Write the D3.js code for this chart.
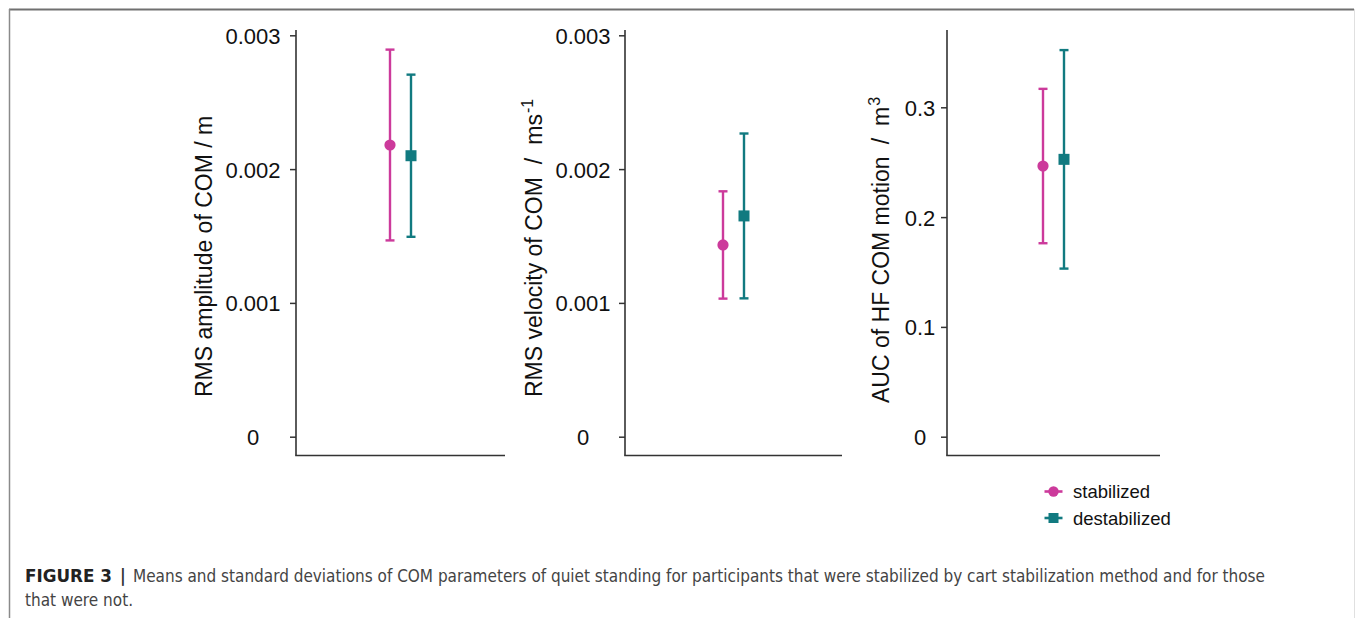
<!DOCTYPE html>
<html>
<head>
<meta charset="utf-8">
<script src="https://cdn.jsdelivr.net/npm/d3@7"></script>
<style>
  html, body { margin: 0; padding: 0; background: #fff; }
  svg { display: block; }
</style>
</head>
<body>
<svg id="chart" width="1355" height="618"></svg>
<script>
// ---------------- data ----------------
const groups = ["stabilized", "destabilized"];
const groupColors = ["#cc3a9b", "#117a80"];

const ampMean = [0.00218, 0.00210];
const ampSD   = [0.000713, 0.000606];

const velMean = [0.001433, 0.00165];
const velSD   = [0.000401, 0.000616];

const aucMean = [0.2465, 0.2526];
const aucSD   = [0.0703, 0.0995];

const ticks12 = [0, 0.001, 0.002, 0.003];
const tickLabels12 = ["0", "0.001", "0.002", "0.003"];
const ticks3 = [0, 0.1, 0.2, 0.3];
const tickLabels3 = ["0", "0.1", "0.2", "0.3"];

const titles = [
  [{t: "RMS amplitude of COM / m"}],
  [{t: "RMS velocity of COM"}, {t: "/", gap: true}, {t: "ms", gap: true}, {t: "-1", sup: true}],
  [{t: "AUC of HF COM motion"}, {t: "/", gap: true}, {t: "m", gap: true}, {t: "3", sup: true}]
];

const captionBold = "FIGURE 3";
const captionLine1 = "Means and standard deviations of COM parameters of quiet standing for participants that were stabilized by cart stabilization method and for those";
const captionLine2 = "that were not.";

// ---------------- layout ----------------
const svg = d3.select("#chart");
const FONT = "'Liberation Sans', Arial, Helvetica, sans-serif";
const AXIS_COLOR = "#333";

const panels = [
  { mean: ampMean, sd: ampSD, ticks: ticks12, labels: tickLabels12,
    left: 296, right: 505, yTopVal: 0.003, yTopPx: 35.3, labelDx: -43,
    titleX: 212, titleY: 397, gap: 0 },
  { mean: velMean, sd: velSD, ticks: ticks12, labels: tickLabels12,
    left: 625, right: 842, yTopVal: 0.003, yTopPx: 35.3, labelDx: -42,
    titleX: 542, titleY: 397, gap: 13 },
  { mean: aucMean, sd: aucSD, ticks: ticks3, labels: tickLabels3,
    left: 947, right: 1160, yTopVal: 0.3, yTopPx: 107.3, labelDx: -27,
    titleX: 889, titleY: 403, gap: 12 }
];
const panelTop = 30, panelBottom = 455.5, zeroPx = 436.7;

// frame
svg.append("line").attr("x1", 9).attr("x2", 1354).attr("y1", 9.5).attr("y2", 9.5)
  .attr("stroke", "#707070").attr("stroke-width", 2);
svg.append("line").attr("x1", 9.5).attr("x2", 9.5).attr("y1", 9).attr("y2", 618)
  .attr("stroke", "#8a8a8a").attr("stroke-width", 1.5);
svg.append("line").attr("x1", 1354.5).attr("x2", 1354.5).attr("y1", 9).attr("y2", 618)
  .attr("stroke", "#e0e0e0").attr("stroke-width", 1);

panels.forEach((p, pi) => {
  const g = svg.append("g");
  const y = d3.scaleLinear().domain([0, p.yTopVal]).range([zeroPx, p.yTopPx]);
  const center = (p.left + p.right) / 2;
  const x = d3.scalePoint().domain(groups).range([center - 10.5, center + 10.5]);

  // y axis
  const axis = d3.axisLeft(y).tickValues(p.ticks)
    .tickFormat((d, i) => p.labels[i]).tickSize(6).tickPadding(8);
  const ag = g.append("g").attr("transform", `translate(${p.left},0)`).call(axis);
  ag.select(".domain").remove();
  ag.selectAll(".tick line").attr("stroke", AXIS_COLOR).attr("stroke-width", 1.5);
  ag.selectAll(".tick text")
    .attr("x", p.labelDx).attr("text-anchor", "middle").attr("dy", "0.36em")
    .attr("fill", "#111").style("font-family", FONT).style("font-size", "22px");

  // axis lines
  g.append("line").attr("x1", p.left).attr("x2", p.left)
    .attr("y1", panelTop).attr("y2", panelBottom)
    .attr("stroke", AXIS_COLOR).attr("stroke-width", 1.6);
  g.append("line").attr("x1", p.left - 0.8).attr("x2", p.right)
    .attr("y1", panelBottom).attr("y2", panelBottom)
    .attr("stroke", AXIS_COLOR).attr("stroke-width", 1.6);

  // title
  const tt = g.append("text")
    .attr("transform", `translate(${p.titleX},${p.titleY}) rotate(-90)`)
    .attr("text-anchor", "start")
    .attr("fill", "#111").style("font-family", FONT).style("font-size", "23px");
  titles[pi].forEach(s => {
    const ts = tt.append("tspan").text(s.t);
    if (s.gap) ts.attr("dx", p.gap);
    if (s.sup) ts.attr("dy", "-0.55em").attr("dx", 1).style("font-size", "16px");
  });

  // error bars + points
  groups.forEach((grp, i) => {
    const cx = x(grp);
    const col = groupColors[i];
    const lo = y(p.mean[i] - p.sd[i]), hi = y(p.mean[i] + p.sd[i]);
    g.append("line").attr("x1", cx).attr("x2", cx).attr("y1", lo).attr("y2", hi)
      .attr("stroke", col).attr("stroke-width", 2.4);
    [lo, hi].forEach(yy => {
      g.append("line").attr("x1", cx - 4.5).attr("x2", cx + 4.5).attr("y1", yy).attr("y2", yy)
        .attr("stroke", col).attr("stroke-width", 2.4);
    });
    const my = y(p.mean[i]);
    if (i === 0) {
      g.append("circle").attr("cx", cx).attr("cy", my).attr("r", 5.6).attr("fill", col);
    } else {
      g.append("rect").attr("x", cx - 5.5).attr("y", my - 5.5)
        .attr("width", 11).attr("height", 11).attr("fill", col);
    }
  });
});

// legend
const legY = [491.5, 518];
groups.forEach((grp, i) => {
  const col = groupColors[i];
  const lg = svg.append("g").attr("transform", `translate(1053.5,${legY[i]})`);
  lg.append("line").attr("x1", -9).attr("x2", 9).attr("stroke", col).attr("stroke-width", 2.6);
  if (i === 0) lg.append("circle").attr("r", 5.2).attr("fill", col);
  else lg.append("rect").attr("x", -5).attr("y", -5).attr("width", 10).attr("height", 10).attr("fill", col);
  lg.append("text").attr("x", 19.5).attr("dy", "0.36em").text(grp)
    .attr("fill", "#111").style("font-family", FONT).style("font-size", "18.5px");
});

// caption
const CAPFONT = "'Liberation Sans Narrow', 'DejaVu Sans Condensed', 'Liberation Sans', Arial, sans-serif";
svg.append("text").attr("x", 25).attr("y", 582).text(captionBold)
  .attr("textLength", 87).attr("lengthAdjust", "spacingAndGlyphs")
  .attr("fill", "#222").style("font-family", CAPFONT).style("font-weight", "bold").style("font-size", "17.5px");
svg.append("text").attr("x", 120).attr("y", 582).text("|")
  .attr("fill", "#333").style("font-family", CAPFONT).style("font-weight", "bold").style("font-size", "17.5px");
svg.append("text").attr("x", 133).attr("y", 582).text(captionLine1)
  .attr("textLength", 1132).attr("lengthAdjust", "spacingAndGlyphs")
  .attr("fill", "#444").style("font-family", CAPFONT).style("font-size", "17.5px");
svg.append("text").attr("x", 25).attr("y", 606).text(captionLine2)
  .attr("textLength", 108).attr("lengthAdjust", "spacingAndGlyphs")
  .attr("fill", "#444").style("font-family", CAPFONT).style("font-size", "17.5px");
</script>
</body>
</html>
